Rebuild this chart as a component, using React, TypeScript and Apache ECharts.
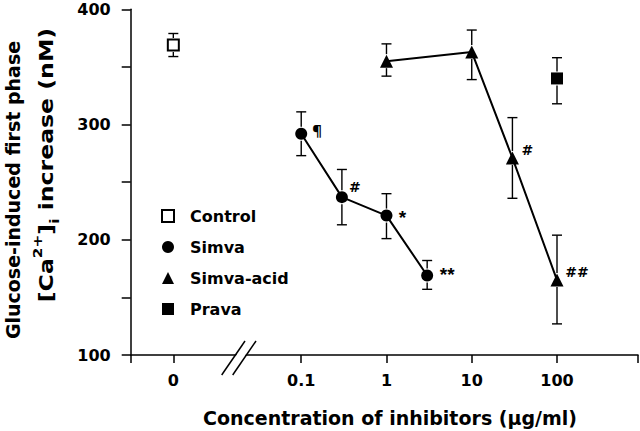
import React, { useEffect, useRef } from "react";
import * as echarts from "echarts";

// ---- data ----
const controlConc = [0];
const controlMean = [369];
const controlLow = [359];
const controlHigh = [379];

const simvaConc = [0.1, 0.3, 1, 3];
const simvaMean = [292, 237, 221, 169];
const simvaLow = [273, 213, 201, 157];
const simvaHigh = [311, 261, 240, 182];
const simvaNotes = ["¶", "#", "*", "**"];

const acidConc = [1, 10, 30, 100];
const acidMean = [355, 363, 271, 165];
const acidLow = [342, 339, 236, 127];
const acidHigh = [370, 382, 306, 204];
const acidNotes = ["", "", "#", "##"];

const pravaConc = [100];
const pravaMean = [340];
const pravaLow = [318];
const pravaHigh = [358];

const xTickConc = [0, 0.1, 1, 10, 100];
const xTickLabels = ["0", "0.1", "1", "10", "100"];
const yTickLabels = [100, 200, 300, 400];

const seriesNames = ["Control", "Simva", "Simva-acid", "Prava"];

// ---- layout helpers ----
const ZERO_POS = -2.5; // position of the "0" concentration on the broken log axis
const X_MIN = -3;
const X_MAX = 2.95;
const xPos = (c: number) => (c === 0 ? ZERO_POS : Math.log10(c));

const FONT = "DejaVu Sans";

const simvaNoteOffsets = [
  [16, -4],
  [13, -10],
  [16, 2],
  [20, -1],
];
const acidNoteOffsets = [
  [0, 0],
  [0, 0],
  [15, -8],
  [20, -8],
];

function noteStyle(note: string) {
  if (note.indexOf("*") >= 0) return { fontFamily: "Liberation Sans", fontSize: 19, fontWeight: "bold" };
  if (note === "¶") return { fontFamily: "Noto Sans", fontSize: 15, fontWeight: "bold" };
  return { fontFamily: FONT, fontSize: 14, fontWeight: "bold" };
}

function pointData(
  conc: number[],
  mean: number[],
  symbolSize: number,
  notes?: string[],
  offsets?: number[][]
) {
  return conc.map((c, i) => {
    const item: any = { value: [xPos(c), mean[i]] };
    if (notes && notes[i]) {
      const off = offsets ? offsets[i] : [14, -6];
      item.label = {
        show: true,
        position: [symbolSize / 2 + off[0], symbolSize / 2 + off[1]],
        align: "center",
        verticalAlign: "middle",
        formatter: notes[i],
        color: "#000",
        textBorderWidth: 0,
        ...noteStyle(notes[i]),
      };
    }
    return item;
  });
}

function errData(conc: number[], mean: number[], lo: number[], hi: number[]) {
  return conc.map((c, i) => [xPos(c), mean[i], lo[i], hi[i]]);
}

export default function App() {
  const ref = useRef<HTMLDivElement>(null);

  useEffect(() => {
    if (!ref.current) return;
    const chart = echarts.init(ref.current, null, { renderer: "svg" });

    const errAll = [
      ...errData(controlConc, controlMean, controlLow, controlHigh),
      ...errData(simvaConc, simvaMean, simvaLow, simvaHigh),
      ...errData(acidConc, acidMean, acidLow, acidHigh),
      ...errData(pravaConc, pravaMean, pravaLow, pravaHigh),
    ];

    const labelFor = (v: number) => {
      for (let i = 0; i < xTickConc.length; i++) {
        if (Math.abs(xPos(xTickConc[i]) - v) < 1e-6) return xTickLabels[i];
      }
      return "";
    };

    const option: any = {
      animation: false,
      backgroundColor: "#fff",
      grid: { left: 130.7, right: 2, top: 9.3, bottom: 76, containLabel: false },
      xAxis: {
        type: "value",
        min: X_MIN,
        max: X_MAX,
        axisLine: { show: true, onZero: false, lineStyle: { color: "#000", width: 1.5 } },
        axisTick: {
          show: true,
          length: 8,
          customValues: [X_MIN, ...xTickConc.map(xPos), X_MAX],
          lineStyle: { color: "#000", width: 1.5 },
        },
        axisLabel: {
          customValues: xTickConc.map(xPos),
          formatter: (v: number) => labelFor(v),
          margin: 17,
          fontFamily: FONT,
          fontWeight: "bold",
          fontSize: 16,
          color: "#000",
        },
        splitLine: { show: false },
      },
      yAxis: {
        type: "value",
        min: 100,
        max: 400,
        interval: 50,
        axisLine: { show: true, onZero: false, lineStyle: { color: "#000", width: 1.5 } },
        axisTick: { show: true, length: 9, lineStyle: { color: "#000", width: 1.5 } },
        axisLabel: {
          formatter: (v: number) => (yTickLabels.includes(v) ? String(v) : ""),
          margin: 20,
          fontFamily: FONT,
          fontWeight: "bold",
          fontSize: 16,
          color: "#000",
        },
        splitLine: { show: false },
      },
      legend: {
        orient: "vertical",
        left: 161,
        top: 208,
        itemWidth: 12,
        itemHeight: 12,
        itemGap: 15,
        padding: 0,
        selectedMode: false,
        data: [
          { name: "Control", icon: "rect" },
          { name: "Simva", icon: "circle" },
          { name: "Simva-acid", icon: "triangle" },
          { name: "Prava", icon: "rect" },
        ],
        textStyle: {
          fontFamily: FONT,
          fontWeight: "bold",
          fontSize: 16,
          lineHeight: 16,
          color: "#000",
          padding: [0, 0, 0, 11],
        },
      },
      series: [
        {
          type: "custom",
          name: "err",
          silent: true,
          data: errAll,
          encode: { x: 0, y: [1, 2, 3] },
          z: 1,
          renderItem: (params: any, api: any) => {
            const x = api.value(0);
            const y = api.value(1);
            const lo = api.value(2);
            const hi = api.value(3);
            const c = api.coord([x, y]);
            const pLo = api.coord([x, lo]);
            const pHi = api.coord([x, hi]);
            const gap = 7;
            const cap = 5;
            const st = { stroke: "#000", lineWidth: 1.4 };
            const children: any[] = [];
            if (c[1] - gap > pHi[1])
              children.push({ type: "line", shape: { x1: c[0], y1: pHi[1], x2: c[0], y2: c[1] - gap }, style: st });
            if (c[1] + gap < pLo[1])
              children.push({ type: "line", shape: { x1: c[0], y1: c[1] + gap, x2: c[0], y2: pLo[1] }, style: st });
            children.push({ type: "line", shape: { x1: c[0] - cap, y1: pHi[1], x2: c[0] + cap, y2: pHi[1] }, style: st });
            children.push({ type: "line", shape: { x1: c[0] - cap, y1: pLo[1], x2: c[0] + cap, y2: pLo[1] }, style: st });
            return { type: "group", children };
          },
        },
        {
          type: "scatter",
          name: seriesNames[0],
          symbol: "rect",
          symbolSize: 11,
          itemStyle: { color: "#fff", borderColor: "#000", borderWidth: 2, opacity: 1 },
          data: pointData(controlConc, controlMean, 11),
          z: 3,
        },
        {
          type: "line",
          name: seriesNames[1],
          symbol: "circle",
          symbolSize: 12,
          showAllSymbol: true,
          itemStyle: { color: "#000", opacity: 1 },
          lineStyle: { color: "#000", width: 2 },
          data: pointData(simvaConc, simvaMean, 12, simvaNotes, simvaNoteOffsets),
          z: 3,
        },
        {
          type: "line",
          name: seriesNames[2],
          symbol: "triangle",
          symbolSize: 13,
          showAllSymbol: true,
          itemStyle: { color: "#000", opacity: 1 },
          lineStyle: { color: "#000", width: 2 },
          data: pointData(acidConc, acidMean, 13, acidNotes, acidNoteOffsets),
          z: 3,
        },
        {
          type: "scatter",
          name: seriesNames[3],
          symbol: "rect",
          symbolSize: 12,
          itemStyle: { color: "#000", opacity: 1 },
          data: pointData(pravaConc, pravaMean, 12),
          z: 3,
        },
      ],
      graphic: [
        {
          type: "polygon",
          z: 100,
          shape: { points: [[232.3, 361], [241.3, 361], [246.8, 353], [237.8, 353]] },
          style: { fill: "#fff" },
        },
        {
          type: "line",
          z: 101,
          shape: { x1: 221.7, y1: 375, x2: 245, y2: 341 },
          style: { stroke: "#000", lineWidth: 1.5 },
        },
        {
          type: "line",
          z: 101,
          shape: { x1: 232.7, y1: 375, x2: 256, y2: 341 },
          style: { stroke: "#000", lineWidth: 1.5 },
        },
        {
          type: "text",
          x: 390,
          y: 418,
          style: {
            text: "Concentration of inhibitors (μg/ml)",
            fontFamily: FONT,
            fontWeight: "bold",
            fontSize: 19,
            fill: "#000",
            align: "center",
            verticalAlign: "middle",
          },
        },
        {
          type: "text",
          x: 13,
          y: 190,
          rotation: Math.PI / 2,
          style: {
            text: "Glucose-induced first phase",
            fontFamily: FONT,
            fontWeight: "bold",
            fontSize: 19,
            fill: "#000",
            align: "center",
            verticalAlign: "middle",
          },
        },
        {
          type: "text",
          x: 46,
          y: 165,
          rotation: Math.PI / 2,
          scaleX: 1.18,
          style: {
            text: "[Ca{sup|2+}]{sub|i} increase (nM)",
            fontFamily: FONT,
            fontWeight: "bold",
            fontSize: 20,
            lineHeight: 30,
            fill: "#000",
            align: "center",
            verticalAlign: "middle",
            rich: {
              sup: { fontFamily: FONT, fontWeight: "bold", fontSize: 13, lineHeight: 13, verticalAlign: "top", fill: "#000" },
              sub: { fontFamily: FONT, fontWeight: "bold", fontSize: 13, lineHeight: 13, verticalAlign: "bottom", fill: "#000" },
            },
          },
        },
      ],
    };

    chart.setOption(option);
    return () => chart.dispose();
  }, []);

  return <div ref={ref} style={{ width: 640, height: 431, position: "absolute", left: 0, top: 0 }} />;
}
